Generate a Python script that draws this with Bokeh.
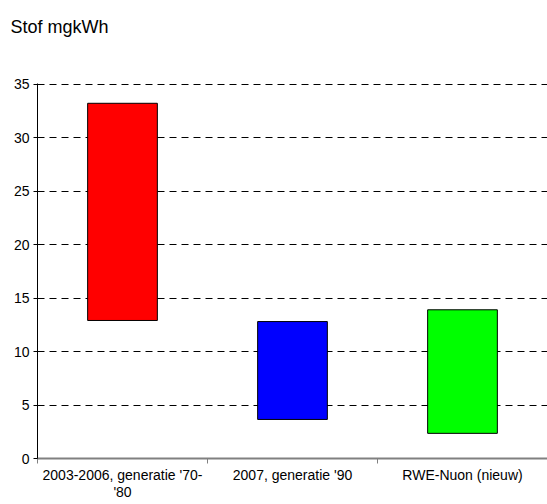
from bokeh.plotting import figure
from bokeh.models import FixedTicker, Range1d, ColumnDataSource, Title
from bokeh.embed import file_html
from bokeh.resources import INLINE
import numpy as np

# Stof (mg/kWh): range per generation of power plants
title_text = "Stof mgkWh"
categories = ["2003-2006, generatie '70-\n'80", "2007, generatie '90", "RWE-Nuon (nieuw)"]
low = [12.9, 3.65, 2.35]
high = [33.2, 12.8, 13.9]
colors = ["#ff0000", "#0000ff", "#00ff00"]
y_ticks = [0, 5, 10, 15, 20, 25, 30, 35]

FONT = "Liberation Sans"

xpos = np.arange(len(categories)) + 0.5
src = ColumnDataSource(dict(x=xpos, low=low, high=high, color=colors))

p = figure(width=547, height=504, output_backend="svg", toolbar_location=None,
           x_range=Range1d(0, len(categories)), y_range=Range1d(0, 35.05),
           min_border_left=37, min_border_right=0, min_border_top=0, min_border_bottom=46,
           title=title_text)
p.outline_line_color = None
p.background_fill_color = "white"
p.border_fill_color = "white"

p.title.text_font = FONT
p.title.text_font_size = "18px"
p.title.text_font_style = "normal"
p.title.text_color = "black"
p.title.offset = -27
p.title.standoff = 29

# empty band between the heading and the plot area
p.add_layout(Title(text=" ", text_font=FONT, text_font_size="18px", standoff=10), "above")

p.vbar(x="x", bottom="low", top="high", width=0.41, fill_color="color",
       line_color="black", line_width=1, source=src)

# y axis
p.yaxis.ticker = FixedTicker(ticks=y_ticks)
p.yaxis.axis_line_color = "black"
p.yaxis.major_tick_line_color = "black"
p.yaxis.major_tick_out = 4
p.yaxis.major_tick_in = 0
p.yaxis.minor_tick_line_color = None
p.yaxis.major_label_text_font = FONT
p.yaxis.major_label_text_font_size = "14px"
p.yaxis.major_label_text_color = "black"
p.yaxis.major_label_standoff = 4

# x axis: labels at category centres, ticks at category boundaries
p.xaxis.ticker = FixedTicker(ticks=list(xpos), minor_ticks=list(range(len(categories) + 1)))
p.xaxis.major_label_overrides = {float(x): c for x, c in zip(xpos, categories)}
p.xaxis.axis_line_color = "#808080"
p.xaxis.axis_line_width = 2
p.xaxis.major_tick_line_color = None
p.xaxis.major_tick_out = 0
p.xaxis.major_tick_in = 0
p.xaxis.minor_tick_line_color = "#808080"
p.xaxis.minor_tick_out = 5
p.xaxis.minor_tick_in = 0
p.xaxis.major_label_text_font = FONT
p.xaxis.major_label_text_font_size = "14px"
p.xaxis.major_label_text_line_height = 1.1
p.xaxis.major_label_text_color = "black"
p.xaxis.major_label_standoff = 3

p.xgrid.grid_line_color = None
p.ygrid.ticker = FixedTicker(ticks=y_ticks[1:])
p.ygrid.grid_line_color = "black"
p.ygrid.grid_line_dash = "7 5"
p.ygrid.grid_line_width = 1

open("out.html", "w").write(file_html(p, INLINE))
